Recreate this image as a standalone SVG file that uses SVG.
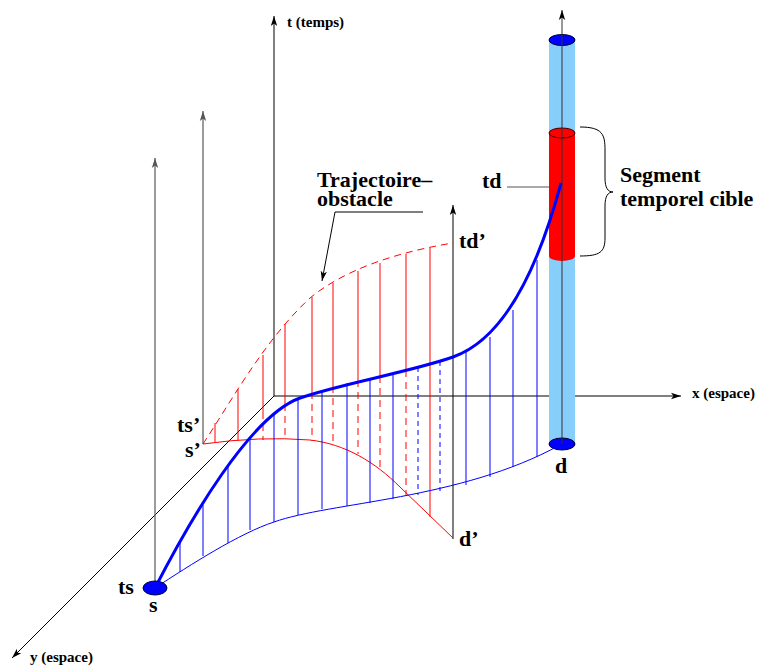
<svg xmlns="http://www.w3.org/2000/svg" width="760" height="666" viewBox="0 0 760 666">
<defs>
<marker id="arr" markerUnits="userSpaceOnUse" markerWidth="12" markerHeight="8" refX="10" refY="4" orient="auto">
<path d="M0,0.8 L10,4 L0,7.2 L2.5,4 z" fill="#000"/>
</marker>
<marker id="arrg" markerUnits="userSpaceOnUse" markerWidth="12" markerHeight="8" refX="10" refY="4" orient="auto">
<path d="M0,0.8 L10,4 L0,7.2 L2.5,4 z" fill="#555"/>
</marker>
</defs>
<style>
.lbl{font-family:"Liberation Serif","Times New Roman",serif;font-weight:bold;fill:#000}
.big{font-size:22px}
.ax{font-size:15px}
.axis{stroke:#000;stroke-width:1;fill:none}
.gray{stroke:#666;stroke-width:1.3;fill:none}
.rs{stroke:#f00;stroke-width:1;fill:none}
.rd{stroke:#f00;stroke-width:1;fill:none;stroke-dasharray:7,5}
.bs{stroke:#00f;stroke-width:1;fill:none}
.bd{stroke:#00f;stroke-width:1;fill:none;stroke-dasharray:5,4}
</style>
<rect width="760" height="666" fill="#fff"/>

<g id="axes">
<line class="axis" x1="274" y1="396" x2="274" y2="16" marker-end="url(#arr)"/>
<line class="axis" x1="274" y1="396" x2="681" y2="396" marker-end="url(#arr)"/>
<line class="axis" x1="274" y1="396" x2="12" y2="658" marker-end="url(#arr)"/>
<line class="gray" x1="155" y1="588" x2="155" y2="158" marker-end="url(#arrg)"/>
<line class="gray" x1="203" y1="444" x2="203" y2="111" marker-end="url(#arrg)"/>
<line class="axis" x1="453" y1="539" x2="453" y2="205" marker-end="url(#arr)"/>
<text class="lbl ax" x="287" y="27">t (temps)</text>
<text class="lbl ax" x="692" y="398">x (espace)</text>
<text class="lbl ax" x="30" y="662">y (espace)</text>
</g>

<g id="cylinder">
<rect x="549" y="40" width="26" height="405" fill="#87cefa"/>
<path d="M549,133 L549,256 A13,5 0 0 0 575,256 L575,133 z" fill="#f00"/>
<ellipse cx="562" cy="133" rx="13" ry="5" fill="#f00" stroke="#400" stroke-width="1"/>
<ellipse cx="562" cy="40" rx="13" ry="5.5" fill="#00f" stroke="#003" stroke-width="1"/>
<ellipse cx="562" cy="444" rx="13" ry="6" fill="#00f" stroke="#003" stroke-width="1"/>
<line stroke="#333" stroke-width="1" x1="562" y1="444" x2="562" y2="10" marker-end="url(#arr)"/>
</g>

<g id="obstacle">
<path class="rd" d="M203,444 C235,395 265,340 310,298 C350,265 410,250 453,243"/>
<path class="rs" d="M203,444 Q260,436 310,440 C345,444 375,462 400,487 L453,538"/>
<path class="rs" d="M215,423V442 M238,389V441 M263,355V412 M285,324V404 M312,297V392 M333,283V386 M358,271V380 M380,263V376 M406,254V370 M430,248V517"/>
<path class="rd" d="M263,412V440 M285,404V440 M312,392V441 M333,386V443 M358,380V454 M380,376V469 M406,370V495"/>
</g>

<g id="trajectory">
<path class="bs" d="M155,588 C190,565 240,533 274,522 C330,502 460,500 560,445"/>
<path class="bs" d="M180,543V572 M203,505V556 M228,465V543 M250,438V530 M274,415V522 M298,399V515 M322,390V509 M347,383V506 M370,378V503 M393,373V499 M466,351V485 M490,337V477 M513,310V467 M537,260V457"/>
<path class="bd" d="M418,367V495 M440,361V491"/>
<path d="M155,588 C190,520 250,416 300,398 C340,384 410,372 453,357 C500,340.6 535,280 561,183" fill="none" stroke="#00f" stroke-width="3"/>
<ellipse cx="155" cy="588" rx="12" ry="7" fill="#00f" stroke="#003" stroke-width="1"/>
</g>

<g id="labels">
<text class="lbl big" x="118" y="594">ts</text>
<text class="lbl big" x="149" y="612">s</text>
<text class="lbl big" x="177" y="432">ts’</text>
<text class="lbl big" x="185" y="457">s’</text>
<text class="lbl big" x="482" y="188">td</text>
<line x1="507" y1="187" x2="549" y2="187" stroke="#555" stroke-width="1.2"/>
<text class="lbl big" x="459" y="248">td’</text>
<text class="lbl big" x="555" y="473">d</text>
<text class="lbl big" x="459" y="546">d’</text>
<text class="lbl big" x="317" y="187">Trajectoire–</text>
<text class="lbl big" x="317" y="206">obstacle</text>
<path d="M423,212 H335 L322,281" fill="none" stroke="#000" stroke-width="1" marker-end="url(#arr)"/>
<text class="lbl big" x="620" y="182">Segment</text>
<text class="lbl big" x="620" y="206">temporel cible</text>
<path d="M580,127 C603,127 605,135 605,150 L605,178 C605,188 608,192 613,192 C608,192 605,196 605,206 L605,238 C605,252 600,256 580,256" fill="none" stroke="#000" stroke-width="1"/>
</g>
</svg>
